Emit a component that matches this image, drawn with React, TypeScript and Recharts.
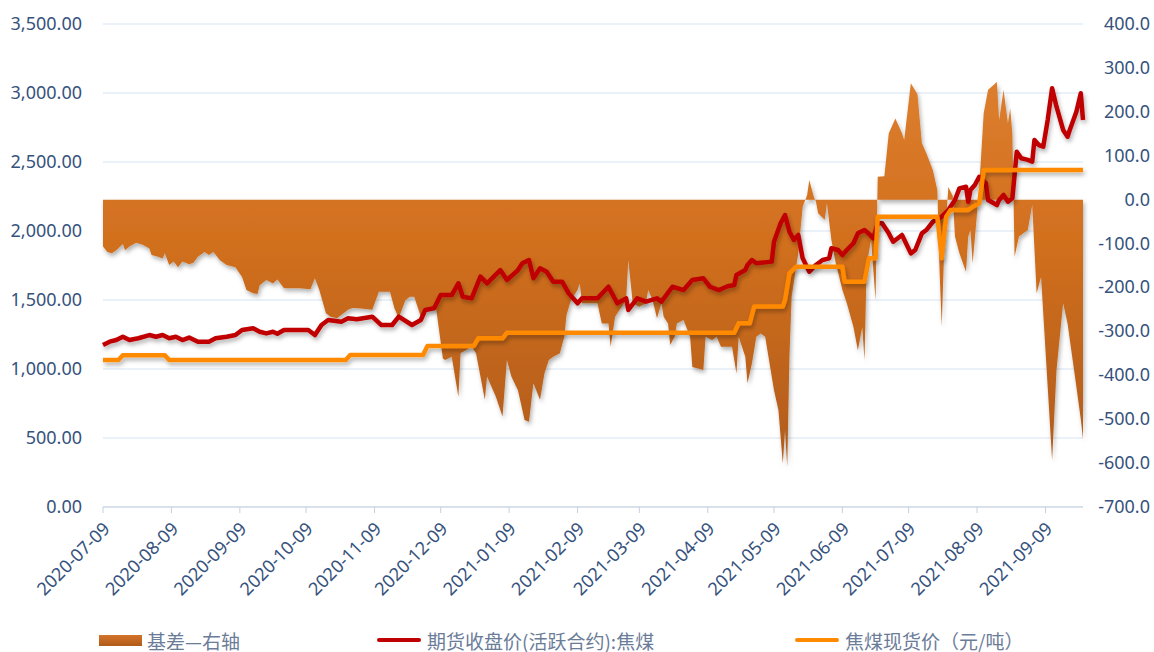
import React from "react";
import {
  ComposedChart,
  Area,
  Line,
  XAxis,
  YAxis,
  CartesianGrid,
} from "recharts";

// 基差 (right axis)
const basisDates = [
  "2020-07-09", "2020-07-11", "2020-07-13", "2020-07-15", "2020-07-18", "2020-07-19", "2020-07-21", "2020-07-24",
  "2020-07-27", "2020-07-30", "2020-07-31", "2020-08-03", "2020-08-05", "2020-08-06", "2020-08-08", "2020-08-10",
  "2020-08-12", "2020-08-14", "2020-08-17", "2020-08-19", "2020-08-21", "2020-08-24", "2020-08-26", "2020-08-28",
  "2020-08-31", "2020-09-03", "2020-09-07", "2020-09-10", "2020-09-12", "2020-09-15", "2020-09-17", "2020-09-18",
  "2020-09-21", "2020-09-24", "2020-09-26", "2020-09-29", "2020-10-06", "2020-10-11", "2020-10-13", "2020-10-15",
  "2020-10-18", "2020-10-20", "2020-10-23", "2020-10-26", "2020-10-28", "2020-10-30", "2020-11-03", "2020-11-08",
  "2020-11-11", "2020-11-16", "2020-11-18", "2020-11-20", "2020-11-23", "2020-11-25", "2020-11-27", "2020-11-30",
  "2020-12-02", "2020-12-07", "2020-12-10", "2020-12-11", "2020-12-14", "2020-12-17", "2020-12-18", "2020-12-23",
  "2020-12-25", "2020-12-29", "2020-12-30", "2021-01-01", "2021-01-03", "2021-01-06", "2021-01-08", "2021-01-10",
  "2021-01-13", "2021-01-16", "2021-01-18", "2021-01-20", "2021-01-23", "2021-01-25", "2021-01-27", "2021-01-29",
  "2021-02-01", "2021-02-03", "2021-02-04", "2021-02-06", "2021-02-09", "2021-02-10", "2021-02-11", "2021-02-18",
  "2021-02-20", "2021-02-23", "2021-02-24", "2021-02-26", "2021-03-01", "2021-03-03", "2021-03-04", "2021-03-06",
  "2021-03-09", "2021-03-12", "2021-03-13", "2021-03-15", "2021-03-17", "2021-03-19", "2021-03-20", "2021-03-22",
  "2021-03-23", "2021-03-25", "2021-03-26", "2021-03-29", "2021-04-01", "2021-04-02", "2021-04-07", "2021-04-08",
  "2021-04-11", "2021-04-13", "2021-04-15", "2021-04-20", "2021-04-22", "2021-04-23", "2021-04-26", "2021-04-27",
  "2021-04-29", "2021-05-01", "2021-05-03", "2021-05-05", "2021-05-09", "2021-05-11", "2021-05-13", "2021-05-14",
  "2021-05-15", "2021-05-16", "2021-05-17", "2021-05-20", "2021-05-22", "2021-05-24", "2021-05-25", "2021-05-27",
  "2021-05-28", "2021-05-29", "2021-06-01", "2021-06-02", "2021-06-04", "2021-06-06", "2021-06-09", "2021-06-11",
  "2021-06-14", "2021-06-16", "2021-06-18", "2021-06-19", "2021-06-20", "2021-06-22", "2021-06-24", "2021-06-25",
  "2021-06-28", "2021-06-30", "2021-07-03", "2021-07-06", "2021-07-07", "2021-07-10", "2021-07-13", "2021-07-15",
  "2021-07-17", "2021-07-20", "2021-07-22", "2021-07-23", "2021-07-24", "2021-07-25", "2021-07-26", "2021-07-27",
  "2021-07-29", "2021-07-30", "2021-08-01", "2021-08-04", "2021-08-05", "2021-08-06", "2021-08-07", "2021-08-09",
  "2021-08-10", "2021-08-12", "2021-08-14", "2021-08-18", "2021-08-19", "2021-08-21", "2021-08-23", "2021-08-24",
  "2021-08-25", "2021-08-26", "2021-08-28", "2021-09-01", "2021-09-03", "2021-09-05", "2021-09-07", "2021-09-10",
  "2021-09-12", "2021-09-14", "2021-09-17", "2021-09-19", "2021-09-23", "2021-09-25", "2021-09-26",
];
const basisValues = [
  -107, -119, -122, -115, -101, -115, -107, -98,
  -103, -111, -126, -130, -134, -122, -149, -141,
  -154, -141, -147, -144, -130, -119, -126, -119,
  -138, -149, -154, -176, -206, -213, -215, -195,
  -183, -191, -182, -202, -202, -204, -179, -206,
  -259, -267, -270, -259, -251, -247, -248, -251,
  -210, -210, -247, -270, -229, -221, -221, -267,
  -251, -251, -362, -365, -358, -449, -350, -335,
  -350, -456, -403, -426, -449, -494, -365, -403,
  -434, -502, -506, -418, -456, -396, -365, -358,
  -350, -312, -263, -229, -206, -191, -236, -236,
  -282, -282, -335, -267, -244, -229, -138, -236,
  -244, -236, -206, -229, -270, -236, -267, -282,
  -331, -312, -282, -274, -312, -381, -388, -312,
  -320, -312, -335, -335, -396, -312, -358, -418,
  -373, -312, -305, -312, -434, -479, -601, -525,
  -608, -358, -221, -122, -16, 10, 45, 7,
  -5, -31, -46, -8, -92, -145, -206, -236,
  -290, -343, -290, -365, -150, -90, -229, 52,
  53, 151, 185, 151, 136, 265, 240, 129,
  106, 67, 22, -160, -289, -130, -46, 29,
  8, -84, -122, -164, -84, -69, -145, -31,
  30, 197, 250, 268, 181, 250, 174, 208,
  150, -130, -84, -69, -12, -213, -176, -426,
  -593, -388, -236, -282, -426, -500, -545,
];

// 期货收盘价 (left axis)
const futuresDates = [
  "2020-07-09", "2020-07-12", "2020-07-15", "2020-07-18", "2020-07-21", "2020-07-25", "2020-07-30", "2020-08-02",
  "2020-08-05", "2020-08-08", "2020-08-11", "2020-08-14", "2020-08-17", "2020-08-21", "2020-08-26", "2020-08-29",
  "2020-09-03", "2020-09-07", "2020-09-10", "2020-09-15", "2020-09-18", "2020-09-21", "2020-09-24", "2020-09-26",
  "2020-09-29", "2020-10-06", "2020-10-10", "2020-10-13", "2020-10-16", "2020-10-19", "2020-10-25", "2020-10-28",
  "2020-11-01", "2020-11-08", "2020-11-12", "2020-11-17", "2020-11-20", "2020-11-26", "2020-11-30", "2020-12-02",
  "2020-12-06", "2020-12-09", "2020-12-14", "2020-12-17", "2020-12-19", "2020-12-23", "2020-12-27", "2020-12-30",
  "2021-01-05", "2021-01-08", "2021-01-13", "2021-01-15", "2021-01-18", "2021-01-20", "2021-01-23", "2021-01-26",
  "2021-01-29", "2021-02-02", "2021-02-05", "2021-02-09", "2021-02-11", "2021-02-18", "2021-02-23", "2021-02-27",
  "2021-03-03", "2021-03-04", "2021-03-08", "2021-03-12", "2021-03-17", "2021-03-19", "2021-03-24", "2021-03-29",
  "2021-04-02", "2021-04-07", "2021-04-10", "2021-04-14", "2021-04-18", "2021-04-21", "2021-04-22", "2021-04-26",
  "2021-04-27", "2021-04-29", "2021-05-01", "2021-05-08", "2021-05-09", "2021-05-12", "2021-05-14", "2021-05-16",
  "2021-05-18", "2021-05-20", "2021-05-22", "2021-05-25", "2021-05-28", "2021-05-31", "2021-06-03", "2021-06-04",
  "2021-06-07", "2021-06-09", "2021-06-11", "2021-06-14", "2021-06-16", "2021-06-19", "2021-06-21", "2021-06-23",
  "2021-06-25", "2021-06-27", "2021-06-30", "2021-07-02", "2021-07-06", "2021-07-10", "2021-07-12", "2021-07-15",
  "2021-07-17", "2021-07-20", "2021-07-24", "2021-07-27", "2021-07-30", "2021-08-01", "2021-08-04", "2021-08-05",
  "2021-08-06", "2021-08-08", "2021-08-10", "2021-08-13", "2021-08-14", "2021-08-18", "2021-08-19", "2021-08-21",
  "2021-08-23", "2021-08-25", "2021-08-27", "2021-08-29", "2021-09-01", "2021-09-03", "2021-09-04", "2021-09-06",
  "2021-09-08", "2021-09-10", "2021-09-12", "2021-09-14", "2021-09-17", "2021-09-19", "2021-09-20", "2021-09-23",
  "2021-09-25", "2021-09-26",
];
const futuresValues = [
  1174, 1198, 1210, 1234, 1210, 1223, 1246, 1234,
  1246, 1223, 1234, 1210, 1228, 1198, 1198, 1223,
  1234, 1246, 1283, 1295, 1270, 1258, 1270, 1255,
  1283, 1283, 1283, 1246, 1319, 1355, 1343, 1367,
  1360, 1379, 1319, 1319, 1379, 1319, 1355, 1428,
  1440, 1536, 1536, 1621, 1524, 1512, 1669, 1621,
  1717, 1645, 1717, 1766, 1790, 1657, 1730, 1705,
  1633, 1633, 1548, 1476, 1512, 1512, 1596, 1476,
  1512, 1428, 1512, 1488, 1512, 1488, 1596, 1572,
  1645, 1657, 1596, 1572, 1600, 1609, 1681, 1717,
  1754, 1790, 1766, 1778, 1922, 2056, 2116, 1995,
  1935, 1971, 1802, 1705, 1754, 1790, 1802, 1875,
  1862, 1826, 1862, 1911, 1983, 2007, 1980, 1947,
  2056, 2056, 1983, 1922, 1971, 1838, 1862, 1983,
  2007, 2067, 2104, 2152, 2225, 2309, 2321, 2212,
  2297, 2333, 2393, 2345, 2225, 2188, 2225, 2261,
  2212, 2237, 2575, 2527, 2515, 2502, 2659, 2623,
  2611, 2804, 3034, 2901, 2732, 2683, 2732, 2864,
  2998, 2804,
];

// 焦煤现货价 (left axis)
const spotDates = [
  "2020-07-09", "2020-07-16", "2020-07-18", "2020-08-06", "2020-08-08", "2020-10-27", "2020-10-29", "2020-12-01",
  "2020-12-03", "2020-12-24", "2020-12-26", "2021-01-06", "2021-01-08", "2021-04-21", "2021-04-23", "2021-04-28",
  "2021-04-30", "2021-05-13", "2021-05-14", "2021-05-16", "2021-05-19", "2021-06-09", "2021-06-10", "2021-06-19",
  "2021-06-21", "2021-06-24", "2021-06-25", "2021-07-22", "2021-07-24", "2021-07-26", "2021-07-28", "2021-08-05",
  "2021-08-07", "2021-08-10", "2021-08-12", "2021-09-26",
];
const spotValues = [
  1065, 1065, 1100, 1100, 1065, 1065, 1101, 1101,
  1167, 1167, 1222, 1222, 1263, 1263, 1331, 1331,
  1452, 1452, 1500, 1693, 1741, 1741, 1633, 1633,
  1802, 1802, 2104, 2104, 1802, 2104, 2152, 2152,
  2176, 2200, 2442, 2442,
];

const tickDates = [
  "2020-07-09", "2020-08-09", "2020-09-09", "2020-10-09", "2020-11-09", "2020-12-09", "2021-01-09", "2021-02-09",
  "2021-03-09", "2021-04-09", "2021-05-09", "2021-06-09", "2021-07-09", "2021-08-09", "2021-09-09",
];
const leftTicks = [0, 500, 1000, 1500, 2000, 2500, 3000, 3500];
const rightTicks = [-700, -600, -500, -400, -300, -200, -100, 0, 100, 200, 300, 400];

const startDate = "2020-07-09";
const endDate = "2021-09-26";

type Row = { t: number; basis?: number; futures?: number; spot?: number };

const toT = (d: string) => Date.parse(d);

function buildRows(): Row[] {
  const map = new Map<number, Row>();
  const put = (dates: string[], values: number[], key: "basis" | "futures" | "spot") => {
    dates.forEach((d, i) => {
      const t = toT(d);
      const row = map.get(t) ?? { t };
      row[key] = values[i];
      map.set(t, row);
    });
  };
  put(basisDates, basisValues, "basis");
  put(futuresDates, futuresValues, "futures");
  put(spotDates, spotValues, "spot");
  return Array.from(map.values()).sort((a, b) => a.t - b.t);
}

const rows = buildRows();

const axisColor = "#36527D";
const numFont = "'Noto Sans', 'Liberation Sans', sans-serif";
const cjkFont = "'Noto Sans CJK SC', 'Noto Sans', sans-serif";

const LeftTick = ({ y, payload }: any) => (
  <text x={82} y={y} dy={6} textAnchor="end" fill={axisColor} fontSize={18} fontFamily={numFont}>
    {Number(payload.value).toLocaleString("en-US", { minimumFractionDigits: 2, maximumFractionDigits: 2 })}
  </text>
);

const RightTick = ({ y, payload }: any) => (
  <text x={1150} y={y} dy={6} textAnchor="end" fill={axisColor} fontSize={18} fontFamily={numFont}>
    {Number(payload.value).toFixed(1)}
  </text>
);

const DateTick = ({ x, y, payload }: any) => (
  <g transform={`translate(${x + 8},${y + 15})`}>
    <text textAnchor="end" transform="rotate(-45)" fill={axisColor} fontSize={18} fontFamily={numFont}>
      {new Date(payload.value).toISOString().slice(0, 10)}
    </text>
  </g>
);

const legendItems = [
  { label: "基差—右轴", kind: "box", color: "#C86A20", left: 99 },
  { label: "期货收盘价(活跃合约):焦煤", kind: "line", color: "#C00000", left: 377 },
  { label: "焦煤现货价（元/吨）", kind: "line", color: "#FF8A00", left: 795 },
];

export default function App() {
  return (
    <div style={{ position: "absolute", left: 0, top: 0, width: 1154, height: 652, background: "#fff" }}>
      <ComposedChart width={1154} height={652} data={rows} margin={{ top: 24, right: 0, bottom: 0, left: 0 }}>
        <defs>
          <linearGradient id="basisFill" x1="0" y1="0" x2="0" y2="1">
            <stop offset="0%" stopColor="#DC7E2E" />
            <stop offset="40%" stopColor="#D2701F" />
            <stop offset="100%" stopColor="#B05B1A" />
          </linearGradient>
          <filter id="shade" x="-5%" y="-10%" width="110%" height="130%">
            <feDropShadow dx="1.5" dy="3" stdDeviation="2" floodColor="#000" floodOpacity="0.3" />
          </filter>
        </defs>
        <CartesianGrid yAxisId="left" vertical={false} stroke="#D8E3F1" strokeWidth={1.2} />
        <XAxis
          dataKey="t"
          type="number"
          scale="time"
          domain={[toT(startDate), toT(endDate)]}
          ticks={tickDates.map(toT)}
          interval={0}
          height={145}
          axisLine={{ stroke: "#C5D1DF" }}
          tickLine={{ stroke: "#C5D1DF" }}
          tickSize={6}
          tick={<DateTick />}
        />
        <YAxis
          yAxisId="left"
          width={103}
          domain={[0, 3500]}
          ticks={leftTicks}
          interval={0}
          axisLine={false}
          tickLine={false}
          tick={<LeftTick />}
        />
        <YAxis
          yAxisId="right"
          orientation="right"
          width={71}
          domain={[-700, 400]}
          ticks={rightTicks}
          interval={0}
          axisLine={false}
          tickLine={false}
          tick={<RightTick />}
        />
        <Area
          yAxisId="right"
          dataKey="basis"
          type="linear"
          baseValue={0}
          connectNulls
          stroke="none"
          fill="url(#basisFill)"
          fillOpacity={1}
          filter="url(#shade)"
          isAnimationActive={false}
          dot={false}
          activeDot={false}
        />
        <Line
          yAxisId="left"
          dataKey="futures"
          type="linear"
          connectNulls
          stroke="#C00000"
          strokeWidth={4.5}
          strokeLinejoin="round"
          filter="url(#shade)"
          dot={false}
          activeDot={false}
          isAnimationActive={false}
        />
        <Line
          yAxisId="left"
          dataKey="spot"
          type="linear"
          connectNulls
          stroke="#FF8A00"
          strokeWidth={4.5}
          strokeLinejoin="round"
          filter="url(#shade)"
          dot={false}
          activeDot={false}
          isAnimationActive={false}
        />
      </ComposedChart>
      {legendItems.map((it) => (
        <div
          key={it.label}
          style={{
            position: "absolute",
            left: it.left,
            top: 628,
            height: 24,
            display: "flex",
            alignItems: "center",
            fontFamily: cjkFont,
            fontSize: 19,
            color: "#6B7C98",
            whiteSpace: "nowrap",
          }}
        >
          {it.kind === "box" ? (
            <span style={{ display: "inline-block", width: 43, height: 11, background: "linear-gradient(#D4732A, #B05B1A)", marginRight: 5 }} />
          ) : (
            <span style={{ display: "inline-block", width: 44, height: 4, borderRadius: 2, background: it.color, marginRight: 6 }} />
          )}
          {it.label}
        </div>
      ))}
    </div>
  );
}
